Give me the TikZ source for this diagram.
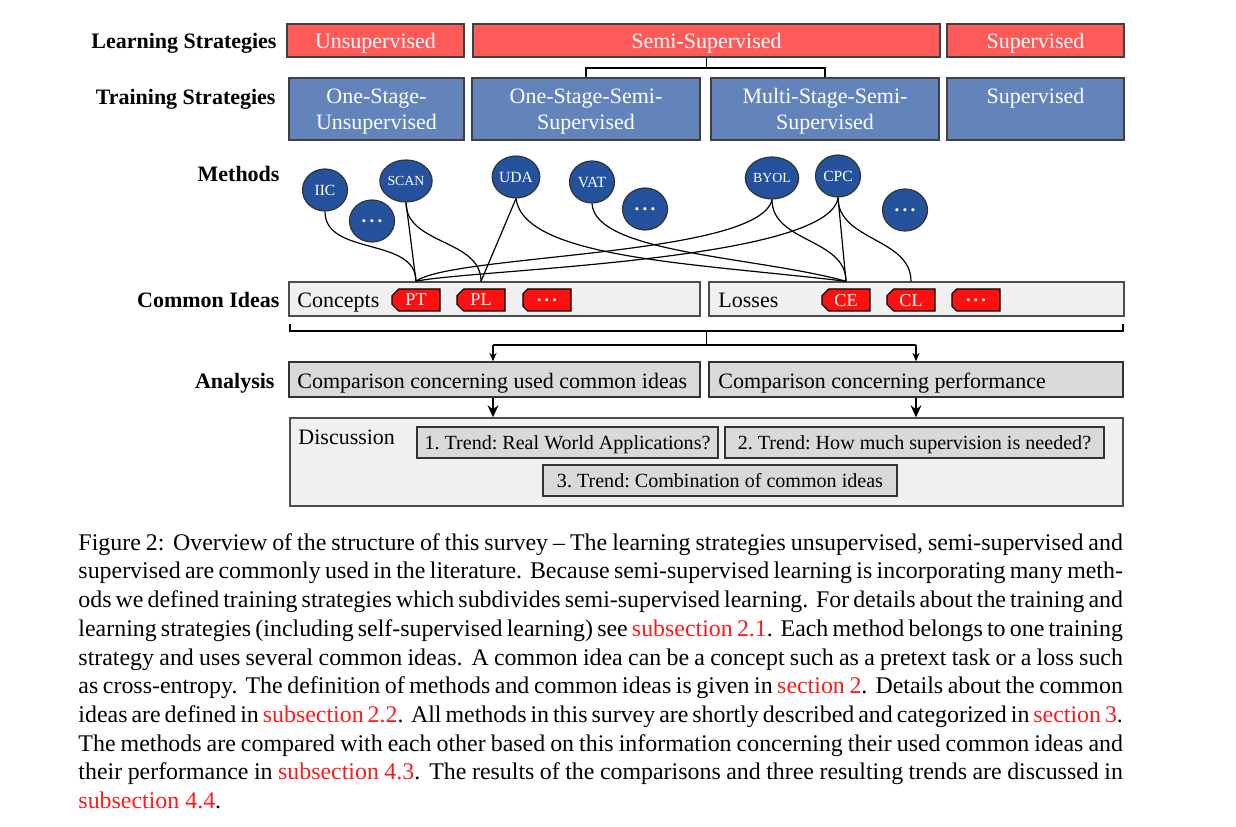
\documentclass[tikz,border=0pt]{standalone}
\usepackage{fontspec}
\setmainfont{Liberation Serif}
\usetikzlibrary{shapes.geometric,shapes.misc,arrows.meta,calc}
\newcommand\upx{0.4184pt}
\definecolor{lsred}{HTML}{FF5A5A}
\definecolor{tsblue}{HTML}{6383BB}
\definecolor{mdblue}{HTML}{25529D}
\definecolor{tagred}{HTML}{FF1010}
\definecolor{lightbg}{HTML}{F0F0F0}
\definecolor{midgray}{HTML}{D9D9D9}
\definecolor{bordergray}{HTML}{404040}
\definecolor{refred}{HTML}{FF1A1A}
\newcommand\rref[1]{\textcolor{refred}{#1}}
\tikzset{
  dfont/.style={font=\fontsize{9.2}{10.8}\selectfont\frenchspacing, text depth=0pt},
  rowlabel/.style={font=\fontsize{9.2}{10.8}\selectfont\bfseries, text depth=0pt, anchor=east, inner sep=0pt},
  lsbox/.style={draw=bordergray, line width=0.6pt, fill=lsred, text=white, dfont, inner sep=0pt, minimum height=33*\upx},
  tsbox/.style={draw=bordergray, line width=0.6pt, fill=tsblue, text=white, dfont, inner sep=0pt, minimum height=62*\upx, align=center},
  method/.style={ellipse, draw=black!80, line width=0.5pt, fill=mdblue, text=white, inner sep=0pt, minimum width=45*\upx, minimum height=42*\upx, font=\fontsize{6.5}{7}\selectfont},
  mdots/.style={method, font=\fontsize{8}{8}\selectfont\bfseries},
  ideabox/.style={draw=black!70, line width=0.6pt, fill=lightbg, inner sep=0pt, minimum height=34*\upx},
  tag/.style={chamfered rectangle, chamfered rectangle corners={north west,south west}, chamfered rectangle xsep=1.4pt, chamfered rectangle ysep=1.4pt, draw=black, line width=0.5pt, fill=tagred, text=white, inner sep=0pt, minimum width=48*\upx, minimum height=22*\upx, font=\fontsize{7.6}{8}\selectfont, text depth=0pt},
  grbox/.style={draw=black!80, line width=0.6pt, fill=midgray, inner sep=0pt, dfont},
  trend/.style={grbox, font=\fontsize{8.4}{10}\selectfont\frenchspacing},
  plain/.style={inner sep=0pt, dfont},
  captext/.style={anchor=north west, inner sep=0pt, text width=437pt, align=justify, font=\fontsize{10}{12}\selectfont},
  edge/.style={line width=0.5pt, black},
  thinarrow/.style={line width=0.6pt, -{Stealth[length=3.5pt,width=3pt]}},
  thickarrow/.style={line width=1.1pt, -{Stealth[length=5pt,width=4.5pt]}},
}
\begin{document}
\begin{tikzpicture}[x=0.4184pt, y=-0.4184pt]
\useasboundingbox (0,0) rectangle (1236,827);

% row labels
\node[rowlabel] (lLS) at (277,41) {Learning Strategies};
\node[rowlabel] (lTS) at (276,97) {Training Strategies};
\node[rowlabel] (lM) at (280,174) {Methods};
\node[rowlabel] (lCI) at (280,300) {Common Ideas};
\node[rowlabel] (lA) at (275,381) {Analysis};

% learning strategies
\node[lsbox, minimum width=177*\upx] (uns) at (375.5,40.5) {Unsupervised};
\node[lsbox, minimum width=467*\upx] (semi) at (706.5,40.5) {Semi-Supervised};
\node[lsbox, minimum width=177*\upx] (sup) at (1035.5,40.5) {Supervised};

% training strategies
\node[tsbox, minimum width=175*\upx] (osu) at (376.5,109) {One-Stage-\\Unsupervised};
\node[tsbox, minimum width=228*\upx] (oss) at (586,109) {One-Stage-Semi-\\Supervised};
\node[tsbox, minimum width=228*\upx] (mss) at (825,109) {Multi-Stage-Semi-\\Supervised};
\node[tsbox, minimum width=177*\upx] (sup2) at (1035.5,109) {Supervised\\\strut};

\coordinate (tj) at (706.5,68);
\draw[line width=0.6pt] (semi.south) -- (tj);
\draw[line width=0.6pt] (tj) -| (oss.north);
\draw[line width=0.6pt] (tj) -| (mss.north);

% common ideas
\node[ideabox, minimum width=411*\upx] (concepts) at (494.5,299) {};
\node[ideabox, minimum width=415*\upx] (losses) at (916.5,299) {};
\node[plain, anchor=west] (tconc) at (297,300) {Concepts};
\node[plain, anchor=west] (tloss) at (718,300) {Losses};
\node[tag] (PT) at (416,300) {PT};
\node[tag] (PL) at (481,300) {PL};
\node[tag] (td1) at (547,300) {\textbf{.\,.\,.}};
\node[tag] (CE) at (846,300) {CE};
\node[tag] (CL) at (911,300) {CL};
\node[tag] (td2) at (976,300) {\textbf{.\,.\,.}};

\coordinate (PTin) at (PT.north |- concepts.north);
\coordinate (PLin) at (PL.north |- concepts.north);
\coordinate (CEin) at (CE.north |- losses.north);
\coordinate (CLin) at (CL.north |- losses.north);

% methods
\node[method] (IIC) at (325,190) {IIC};
\node[mdots] (md1) at (372,221) {.\,.\,.};
\node[method, font=\fontsize{5.8}{6}\selectfont] (SCAN) at (406,181) {SCAN};
\node[method] (UDA) at (516,177) {UDA};
\node[method] (VAT) at (592,182) {VAT};
\node[mdots] (md2) at (645,209) {.\,.\,.};
\node[method, font=\fontsize{5.8}{6}\selectfont] (BYOL) at (772,178) {BYOL};
\node[method] (CPC) at (838,176) {CPC};
\node[mdots] (md3) at (905,210) {.\,.\,.};

% connectors methods -> ideas
\draw[edge] (IIC.south) to[out=-90,in=90] (PTin);
\draw[edge] (SCAN.south) -- (PTin);
\draw[edge] (SCAN.south) to[out=-90,in=90] (PLin);
\draw[edge] (UDA.south) -- (PLin);
\draw[edge] (UDA.south) .. controls +(8,60) and +(-150,-18) .. (CEin);
\draw[edge] (VAT.south) .. controls +(3,50) and +(-90,-25) .. (CEin);
\draw[edge] (BYOL.south) .. controls +(-12,57) and +(35,-27) .. (PTin);
\draw[edge] (CPC.south) .. controls +(-8,64) and +(55,-12) .. (PTin);
\draw[edge] (BYOL.south) to[out=-90,in=90] (CEin);
\draw[edge] (CPC.south) -- (CEin);
\draw[edge] (CPC.south) to[out=-90,in=90] (CLin);

% analysis
\node[grbox, minimum width=411*\upx, minimum height=35*\upx] (comp1) at (494.5,379.5) {};
\node[grbox, minimum width=414*\upx, minimum height=35*\upx] (comp2) at (916,379.5) {};
\node[plain, anchor=west] (tc1) at (297,380.5) {Comparison concerning used common ideas};
\node[plain, anchor=west] (tc2) at (718,380.5) {Comparison concerning performance};

% brace
\coordinate (bl) at (290,324);
\coordinate (br) at (1123,324);
\coordinate (bm) at (706.5,331);
\coordinate (bj) at (706.5,345);
\draw[line width=0.6pt] (bl) -- (290,331) -- (1123,331) -- (br);
\draw[line width=0.6pt] (bm) -- (bj);
\draw[line width=0.6pt] (493,345) -- (916,345);
\draw[thinarrow] (493,345) -- (comp1.north -| 493,0);
\draw[thinarrow] (916,345) -- (comp2.north);

% discussion
\node[ideabox, minimum width=833*\upx, minimum height=88*\upx] (disc) at (706.5,462) {};
\node[plain, anchor=west] (tdisc) at (298,437) {Discussion};
\node[trend, minimum width=301*\upx, minimum height=31*\upx] (t1) at (567.5,442.5) {1. Trend: Real World Applications?};
\node[trend, minimum width=379*\upx, minimum height=31*\upx] (t2) at (914.5,442.5) {2. Trend: How much supervision is needed?};
\node[trend, minimum width=354*\upx, minimum height=31*\upx] (t3) at (720,480.5) {3. Trend: Combination of common ideas};

\draw[thickarrow] (comp1.south -| 493,0) -- (disc.north -| 493,0);
\draw[thickarrow] (comp2.south) -- (disc.north -| comp2.south);

% caption
\node[captext] (cap) at (78,533) {\spaceskip=0.25em plus 0.2em minus 0.14em\relax
\xspaceskip=0.4em plus 0.25em minus 0.14em\relax
Figure 2: Overview of the structure of this survey -- The learning strategies unsupervised, semi-supervised and\linebreak
supervised are commonly used in the literature. Because semi-supervised learning is incorporating many meth-\linebreak
ods we defined training strategies which subdivides semi-supervised learning. For details about the training and\linebreak
learning strategies (including self-supervised learning) see \rref{subsection 2.1}. Each method belongs to one training\linebreak
strategy and uses several common ideas. A common idea can be a concept such as a pretext task or a loss such\linebreak
as cross-entropy. The definition of methods and common ideas is given in \rref{section 2}. Details about the common\linebreak
ideas are defined in \rref{subsection 2.2}. All methods in this survey are shortly described and categorized in \rref{section 3}.\linebreak
The methods are compared with each other based on this information concerning their used common ideas and\linebreak
their performance in \rref{subsection 4.3}. The results of the comparisons and three resulting trends are discussed in\linebreak
\rref{subsection 4.4}.};
\end{tikzpicture}
\end{document}
